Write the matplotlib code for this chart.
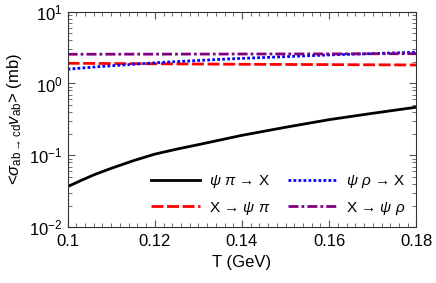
import numpy as np
import matplotlib
matplotlib.use("Agg")
import matplotlib.pyplot as plt
from matplotlib.ticker import MultipleLocator, LogLocator, NullFormatter

plt.rcParams['font.family'] = ['Liberation Sans', 'DejaVu Sans']
plt.rcParams['mathtext.fontset'] = 'custom'
plt.rcParams['mathtext.rm'] = 'Liberation Sans'
plt.rcParams['mathtext.it'] = 'Liberation Sans:italic'
plt.rcParams['mathtext.bf'] = 'Liberation Sans:bold'

# values
T_black = [0.1, 0.103, 0.106, 0.11, 0.115, 0.12, 0.125, 0.13, 0.14, 0.15, 0.16, 0.17, 0.18]
psi_pi_X = [0.0367, 0.0445, 0.0535, 0.066, 0.084, 0.104, 0.122, 0.141, 0.19, 0.246, 0.314, 0.385, 0.468]

T_flat = [0.1, 0.12, 0.14, 0.16, 0.18]
X_psi_pi = [1.91, 1.88, 1.85, 1.83, 1.81]
X_psi_rho = [2.55, 2.56, 2.57, 2.58, 2.6]

T_blue = [0.1, 0.1074, 0.1212, 0.1372, 0.1602, 0.18]
psi_rho_X = [1.58, 1.72, 1.96, 2.2, 2.5, 2.72]

labels = [r'$\psi\ \pi$ → X', r'X → $\psi\ \pi$', r'$\psi\ \rho$ → X', r'X → $\psi\ \rho$']

fig = plt.figure(figsize=(4.36, 2.83), dpi=100)
ax = fig.add_axes([0.155, 0.197, 0.8, 0.762])

ax.plot(T_black, psi_pi_X, color='black', lw=2, label=labels[0])
ax.plot(T_flat, X_psi_pi, color='red', lw=2, ls=(0, (4.3, 1.3)), label=labels[1])
ax.plot(T_blue, psi_rho_X, color='blue', lw=2, ls=(0, (1, 0.8)), label=labels[2])
ax.plot(T_flat, X_psi_rho, color='purple', lw=2, ls=(0, (3.6, 1.1, 1, 1.1)), label=labels[3])

ax.set_yscale('log')
ax.set_xlim(0.1, 0.18)
ax.set_ylim(1e-2, 10)
ax.xaxis.set_major_locator(MultipleLocator(0.02))
ax.xaxis.set_minor_locator(MultipleLocator(0.002))
ax.xaxis.set_major_formatter(plt.FuncFormatter(lambda v, p: ('%.2f' % v).rstrip('0')))
ax.yaxis.set_minor_locator(LogLocator(base=10, subs=np.arange(2, 10)))
ax.yaxis.set_minor_formatter(NullFormatter())
ax.tick_params(which='both', direction='in', top=True, right=True, labelsize=12, color='#555555')
ax.tick_params(which='major', length=5)
ax.tick_params(which='minor', length=3)
ax.tick_params(axis='x', pad=5)
for s in ax.spines.values():
    s.set_color('#333333')

ax.set_xlabel('T (GeV)', fontsize=12)
ax.set_ylabel(r'<$\sigma_{\rm ab\rightarrow cd}v_{\rm ab}$> (mb)', fontsize=12)

ax.legend(loc='lower right', ncol=2, frameon=False, fontsize=11,
          handlelength=3.2, handletextpad=0.6, columnspacing=1.1, labelspacing=0.6,
          borderaxespad=0.3)

fig.savefig('out.png', dpi=100)
